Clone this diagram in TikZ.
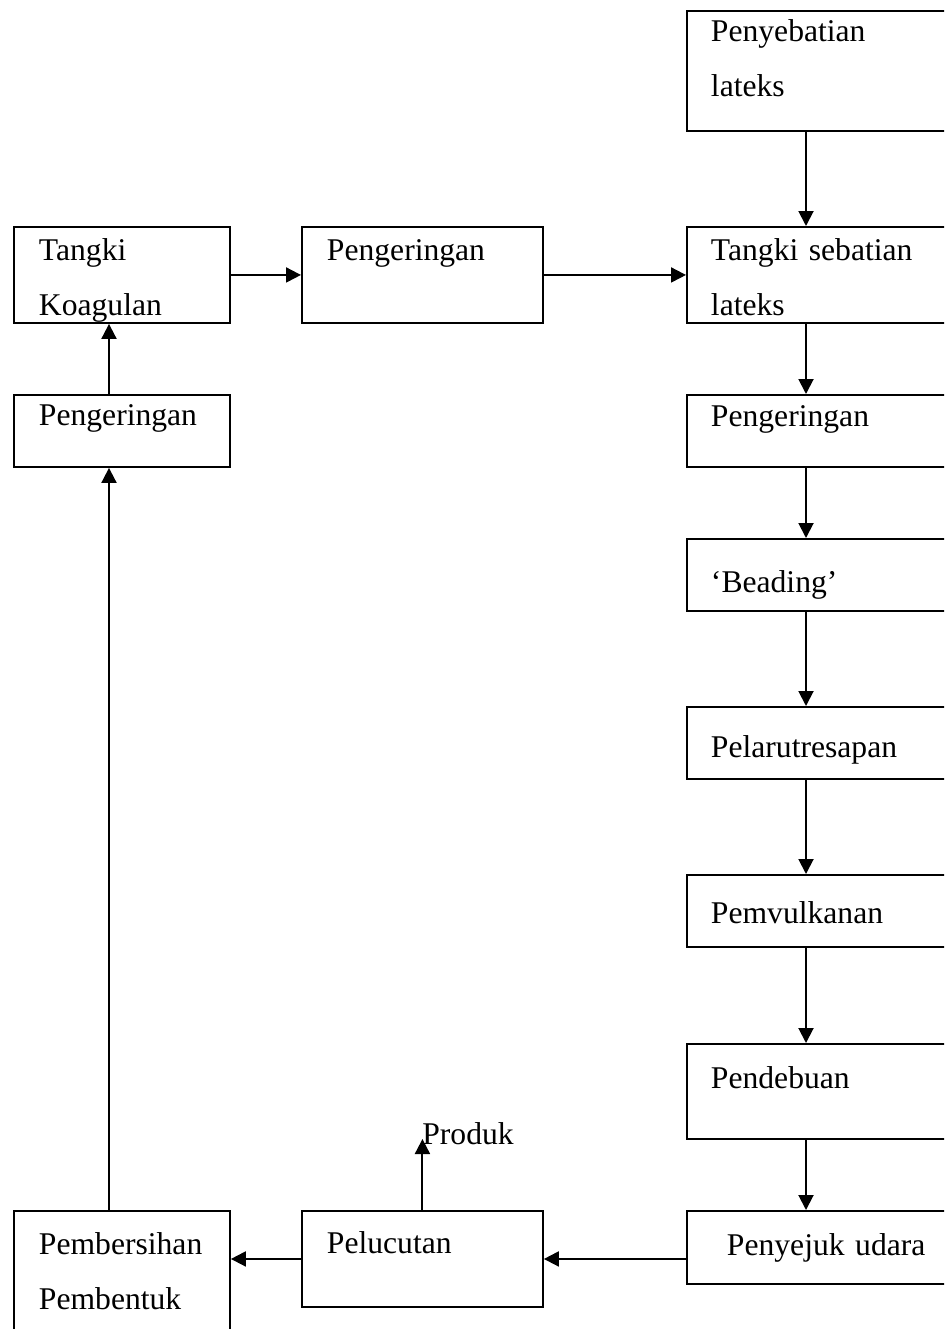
\documentclass[tikz,border=0pt]{standalone}
\usepackage{fontspec}
\setmainfont{Liberation Serif}
\usetikzlibrary{positioning,arrows.meta}

\begin{document}
\begin{tikzpicture}[x=0.02cm, y=-0.02cm,
    procbox/.style={draw, line width=1.1pt, anchor=north west, align=left,
        inner ysep=0pt, inner xsep=0.48cm, text width=5.04cm,
        font=\fontsize{18pt}{31.3pt}\selectfont},
    leftbox/.style={procbox, inner xsep=0.5cm, text width=3.32cm},
    midbox/.style={procbox, inner xsep=0.5cm, text width=3.82cm},
    arr/.style={line width=1.1pt, -{Triangle[length=0.3cm, width=0.3cm]}}]
    \useasboundingbox (0,0) rectangle (944,1329);
    \clip (0,0) rectangle (944,1329);

    % Right column
    \node[procbox, text height=0.62cm, text depth=1.78cm] (penyebatian) at (686,10) {Penyebatian\\lateks};
    \node[procbox, text height=0.68cm, text depth=1.24cm] (tangkisebatian) at (686,226) {Tangki sebatian\\lateks};
    \node[procbox, text height=0.64cm, text depth=0.80cm] (keringB) at (686,394) {Pengeringan};
    \node[procbox, text height=1.08cm, text depth=0.36cm] (beading) at (686,538) {`Beading'};
    \node[procbox, text height=1.02cm, text depth=0.42cm] (pelarut) at (686,706) {Pelarutresapan};
    \node[procbox, text height=0.98cm, text depth=0.46cm] (vulkan) at (686,874) {Pemvulkanan};
    \node[procbox, text height=0.90cm, text depth=1.00cm] (debu) at (686,1043) {Pendebuan};
    \node[procbox, inner xsep=0.8cm, text width=4.4cm, text height=0.90cm, text depth=0.56cm] (sejuk) at (686,1210) {Penyejuk udara};
    \coordinate (rightcol) at (806,0);

    % Left and middle
    \node[leftbox, text height=0.68cm, text depth=1.24cm] (koagulan) at (13,226) {Tangki\\Koagulan};
    \node[midbox, text height=0.68cm, text depth=1.24cm] (keringC) at (301,226) {Pengeringan};
    \node[leftbox, text height=0.62cm, text depth=0.82cm] (keringA) at (13,394) {Pengeringan};
    \node[leftbox, text height=0.88cm, text depth=2.32cm] (bersih) at (13,1210) {Pembersihan\\Pembentuk};
    \node[midbox, text height=0.86cm, text depth=1.06cm] (lucut) at (301,1210) {Pelucutan};
    \coordinate (leftcol) at (109,0);

    \node[anchor=base west, inner sep=0pt, font=\fontsize{18pt}{31.3pt}\selectfont] (produk) at (422,1144) {Produk};
    \coordinate (produkpt) at (421.5,1139);

    % down the right column
    \draw[arr] (penyebatian.south -| rightcol) -- (tangkisebatian.north -| rightcol);
    \draw[arr] (tangkisebatian.south -| rightcol) -- (keringB.north -| rightcol);
    \draw[arr] (keringB.south -| rightcol) -- (beading.north -| rightcol);
    \draw[arr] (beading.south -| rightcol) -- (pelarut.north -| rightcol);
    \draw[arr] (pelarut.south -| rightcol) -- (vulkan.north -| rightcol);
    \draw[arr] (vulkan.south -| rightcol) -- (debu.north -| rightcol);
    \draw[arr] (debu.south -| rightcol) -- (sejuk.north -| rightcol);

    % bottom row and back up
    \draw[arr] (lucut.east -| sejuk.west) -- (lucut.east);
    \draw[arr] (lucut.west) -- (lucut.west -| bersih.east);
    \draw[arr] (lucut.north) -- (lucut.north |- produkpt);
    \draw[arr] (bersih.north -| leftcol) -- (keringA.south -| leftcol);
    \draw[arr] (keringA.north -| leftcol) -- (koagulan.south -| leftcol);

    % top row
    \draw[arr] (koagulan.east) -- (keringC.west);
    \draw[arr] (keringC.east) -- (tangkisebatian.west);
\end{tikzpicture}
\end{document}
